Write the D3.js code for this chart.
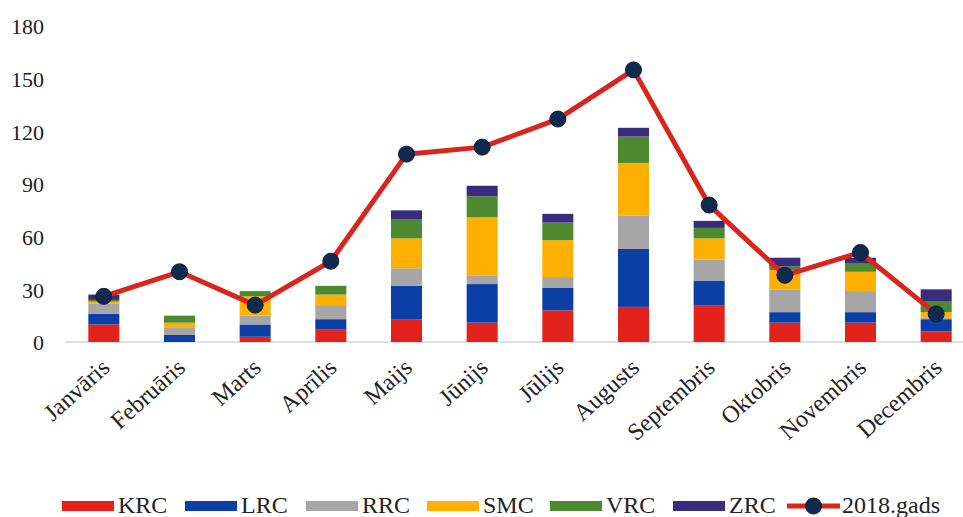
<!DOCTYPE html>
<html>
<head>
<meta charset="utf-8">
<script src="https://cdn.jsdelivr.net/npm/d3@7"></script>
<style>
  body { margin: 0; background: #fff; }
  svg text { font-family: "Liberation Serif", "DejaVu Serif", serif; fill: #222; }
</style>
</head>
<body>
<div id="chart"></div>
<script>
// Months (x categories)
var months = ["Janvāris", "Februāris", "Marts", "Aprīlis", "Maijs", "Jūnijs",
              "Jūlijs", "Augusts", "Septembris", "Oktobris", "Novembris", "Decembris"];

// Stacked series, values
var seriesNames = ["KRC", "LRC", "RRC", "SMC", "VRC", "ZRC"];
var KRC = [10, 0, 3, 7, 13, 11, 18, 20, 21, 11, 11, 6];
var LRC = [6, 4, 7, 6, 19, 22, 13, 33, 14, 6, 6, 7];
var RRC = [6, 4, 5, 8, 10, 5, 6, 19, 12, 13, 12, 1];
var SMC = [1, 3, 11, 6, 17, 33, 21, 30, 12, 11, 11, 3];
var VRC = [1, 4, 3, 5, 11, 12, 10, 15, 6, 2, 5, 6];
var ZRC = [3, 0, 0, 0, 5, 6, 5, 5, 4, 5, 3, 7];

// Line series
var lineName = "2018.gads";
var total2018 = [26, 40, 21, 46, 107, 111, 127, 155, 78, 38, 51, 16];

var yTicks = [0, 30, 60, 90, 120, 150, 180];

var colors = {
    KRC: "#e3221c",
    LRC: "#0b3fa6",
    RRC: "#a6a6a6",
    SMC: "#ffb000",
    VRC: "#4d8a2f",
    ZRC: "#3a2c7c"
};
var lineColor = "#d9261c";
var markerColor = "#0f2a4e";

var width = 963, height = 517;

var svg = d3.select("#chart").append("svg")
    .attr("width", width)
    .attr("height", height);

// Build table for the stack
var table = months.map(function(m, i) {
    return { month: m, KRC: KRC[i], LRC: LRC[i], RRC: RRC[i], SMC: SMC[i], VRC: VRC[i], ZRC: ZRC[i] };
});

var x = d3.scaleBand().domain(months).range([66, 974]).paddingInner(0.59).paddingOuter(0.295);
var y = d3.scaleLinear().domain([0, 180]).range([342, 26]);

// Y axis (labels only)
var yAxis = svg.append("g")
    .attr("transform", "translate(44,0)")
    .call(d3.axisLeft(y).tickValues(yTicks).tickSize(0).tickPadding(0));
yAxis.attr("font-family", null).attr("font-size", null);
yAxis.select(".domain").remove();
yAxis.selectAll("text")
    .style("font-family", "'Liberation Serif', serif")
    .style("font-size", "22px")
    .attr("dy", "0.35em");

// baseline
svg.append("line")
    .attr("x1", 65).attr("x2", 963)
    .attr("y1", y(0)).attr("y2", y(0))
    .attr("stroke", "#d4d4d4").attr("stroke-width", 1.5);

// Stacked bars
var stacked = d3.stack().keys(seriesNames)(table);

svg.selectAll("g.layer").data(stacked).enter().append("g")
    .attr("class", "layer")
    .attr("fill", function(d) { return colors[d.key]; })
    .selectAll("rect").data(function(d) { return d; }).enter().append("rect")
    .attr("x", function(d) { return x(d.data.month); })
    .attr("width", x.bandwidth())
    .attr("y", function(d) { return y(d[1]); })
    .attr("height", function(d) { return y(d[0]) - y(d[1]); });

// X labels rotated
svg.append("g").selectAll("text").data(months).enter().append("text")
    .attr("transform", function(d) {
        return "translate(" + (x(d) + x.bandwidth() / 2 - 4) + ",357) rotate(-42)";
    })
    .attr("text-anchor", "end")
    .attr("dy", "0.7em")
    .style("font-size", "24px")
    .text(function(d) { return d; });

// Line + markers
var line = d3.line()
    .x(function(d, i) { return x(months[i]) + x.bandwidth() / 2; })
    .y(function(d) { return y(d); });

svg.append("path")
    .datum(total2018)
    .attr("fill", "none")
    .attr("stroke", lineColor)
    .attr("stroke-width", 5)
    .attr("stroke-linejoin", "round")
    .attr("d", line);

svg.selectAll("circle.pt").data(total2018).enter().append("circle")
    .attr("class", "pt")
    .attr("cx", function(d, i) { return x(months[i]) + x.bandwidth() / 2; })
    .attr("cy", function(d) { return y(d); })
    .attr("r", 8)
    .attr("fill", markerColor)
    .attr("stroke", "#0a1c36")
    .attr("stroke-width", 1);

// Legend
var legend = svg.append("g");
var legendX = [62, 185, 306, 427, 550, 673];
seriesNames.forEach(function(s, i) {
    var g = legend.append("g").attr("transform", "translate(" + legendX[i] + ",0)");
    g.append("rect").attr("x", 0).attr("y", 501).attr("width", 52).attr("height", 10)
        .attr("fill", colors[s]);
    g.append("text").attr("x", 56).attr("y", 513).style("font-size", "24px").text(s);
});
var lg = legend.append("g").attr("transform", "translate(787,0)");
lg.append("line").attr("x1", 0).attr("x2", 53).attr("y1", 506).attr("y2", 506)
    .attr("stroke", lineColor).attr("stroke-width", 5);
lg.append("circle").attr("cx", 26.5).attr("cy", 506).attr("r", 8)
    .attr("fill", markerColor).attr("stroke", "#0a1c36").attr("stroke-width", 1);
lg.append("text").attr("x", 55).attr("y", 513).style("font-size", "24px").text(lineName);
</script>
</body>
</html>
